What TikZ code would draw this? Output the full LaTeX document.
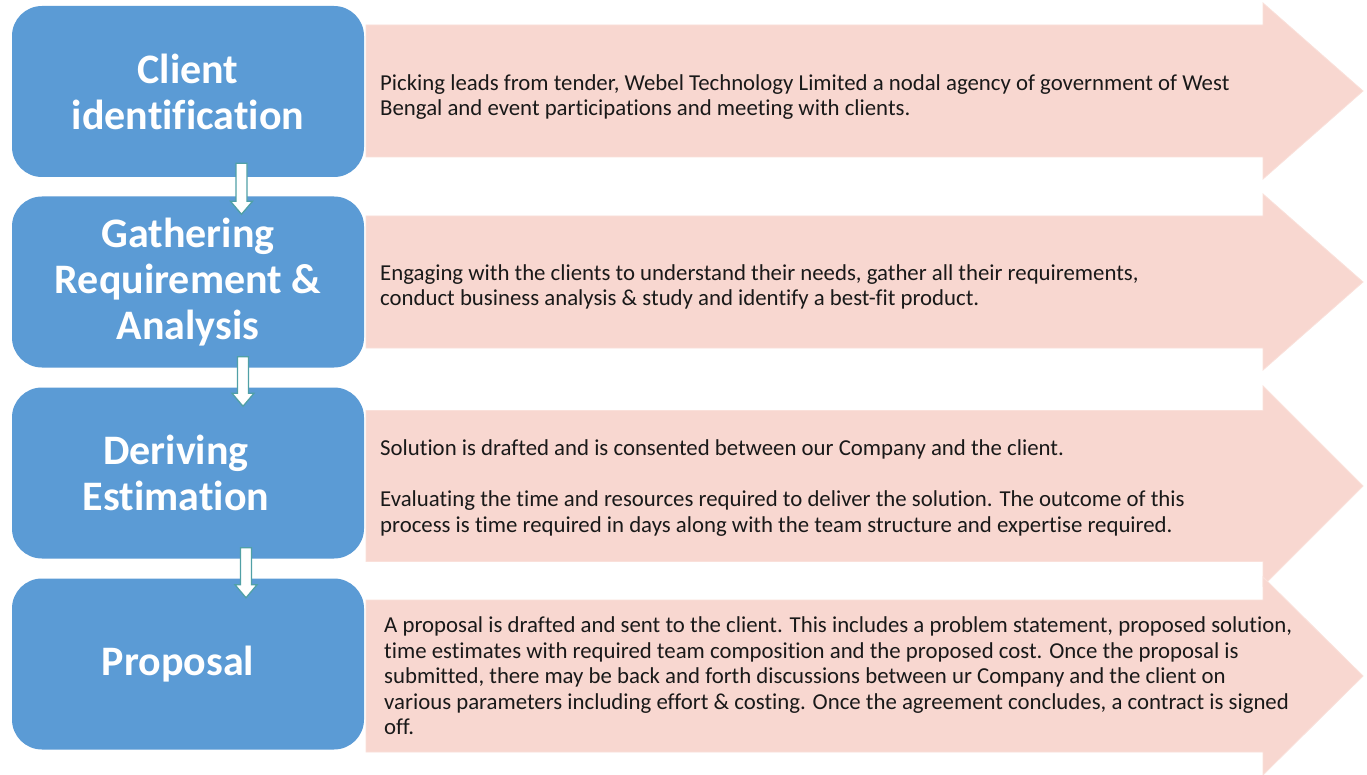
\documentclass[tikz,border=0pt]{standalone}
\usepackage{fontspec}
\setmainfont{Carlito}[Ligatures=NoCommon]
\usetikzlibrary{calc}
\definecolor{boxblue}{HTML}{5B9BD5}
\definecolor{arrowpink}{HTML}{F8D7D0}
\definecolor{pinkedge}{HTML}{FAE0DA}
\definecolor{connteal}{HTML}{50A0A6}
\tikzset{
  bluebox/.style={fill=boxblue, draw=none, rounded corners=30pt, minimum width=352pt, minimum height=171pt,
    text=white, align=center, font=\fontsize{42}{46}\selectfont\bfseries, inner sep=0pt},
  pinkbody/.style={fill=arrowpink, draw=pinkedge, line width=0.8pt},
  desc/.style={anchor=west, align=left, font=\fontsize{22.8}{25.5}\selectfont, text=black!90, inner sep=0pt},
  conn/.style={fill=white, draw=connteal, line width=1.3pt, line join=miter}
}
\newcommand\pinkarrow[3]{% center y, body half height, head half height
  \path[pinkbody] (366,#1-#2) -- (1263,#1-#2) -- (1263,#1-#3) -- (1363,#1) -- (1263,#1+#3) -- (1263,#1+#2) -- (366,#1+#2) -- cycle;}
\newcommand\blockdown[2]{% top coordinate, tip coordinate
  \draw[conn] ($#1+(-5.5,0)$) -- ($#1+(5.5,0)$) -- ($#2+(5.5,-13)$) -- ($#2+(11,-13)$) -- #2 -- ($#2+(-11,-13)$) -- ($#2+(-5.5,-13)$) -- cycle;}
\begin{document}
\begin{tikzpicture}[x=1pt,y=-1pt]
\useasboundingbox[fill=white] (0,0) rectangle (1367,775);
% pink arrows
\pinkarrow{91}{66}{88}
\pinkarrow{282}{66}{88}
\pinkarrow{486}{75.5}{100}
\pinkarrow{676}{76}{99}
% blue boxes
\node[bluebox] (b1) at (188,91.5) {Client\\identification};
\node[bluebox] (b2) at (188,282) {Gathering\\Requirement \&\\Analysis};
\node[bluebox] (b3) at (188,473) {\hspace*{-24pt}Deriving\\\hspace*{-24pt}Estimation};
\node[bluebox] (b4) at (188,664) {\hspace*{-20pt}Proposal};
% descriptions
\node[desc] (d1) at (380,97) {Picking leads from tender, Webel Technology Limited a nodal agency of government of West\\Bengal and event participations and meeting with clients.};
\node[desc] (d2) at (380,287) {Engaging with the clients to understand their needs, gather all their requirements,\\conduct business analysis \& study and identify a best-fit product.};
\node[desc] (d3) at (380,488) {Solution is drafted and is consented between our Company and the client.\\[25.5pt]Evaluating the time and resources required to deliver the solution. The outcome of this\\process is time required in days along with the team structure and expertise required.};
\node[desc] (d4) at (384,676) {A proposal is drafted and sent to the client. This includes a problem statement, proposed solution,\\time estimates with required team composition and the proposed cost. Once the proposal is\\submitted, there may be back and forth discussions between ur Company and the client on\\various parameters including effort \& costing. Once the agreement concludes, a contract is signed\\off.};
% connectors
\coordinate (c1s) at ($(b1.south)+(53.5,-14)$);
\coordinate (c1e) at ($(b2.north)+(53.5,18)$);
\coordinate (c2s) at ($(b2.south)+(55,-11)$);
\coordinate (c2e) at ($(b3.north)+(55,19)$);
\coordinate (c3s) at ($(b3.south)+(58,-11)$);
\coordinate (c3e) at ($(b4.north)+(58,19.5)$);
\blockdown{(c1s)}{(c1e)}
\blockdown{(c2s)}{(c2e)}
\blockdown{(c3s)}{(c3e)}
\end{tikzpicture}
\end{document}
